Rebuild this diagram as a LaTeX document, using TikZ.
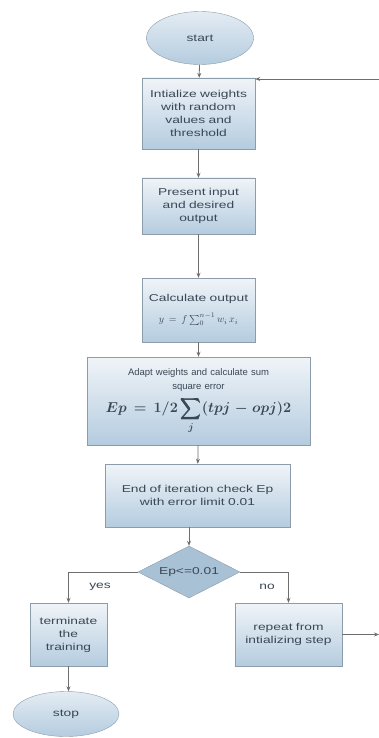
\documentclass[tikz,border=0pt]{standalone}
\usepackage{fontspec}
\setmainfont{Liberation Sans}
\newfontfamily\flowfont[FakeStretch=1.38]{Liberation Sans}
\usepackage{amsmath,amssymb,bm}
\usetikzlibrary{shapes.geometric,arrows.meta}
\definecolor{boxtop}{HTML}{F0F4F8}
\definecolor{boxbot}{HTML}{B4CCDF}
\definecolor{boxline}{HTML}{8C9CAA}
\definecolor{diafill}{HTML}{A9C1D4}
\definecolor{txt}{HTML}{3A4756}
\definecolor{conn}{HTML}{6E6E6E}

\begin{document}
\begin{tikzpicture}[x=1pt,y=-1pt,
    every node/.style={text=txt,font=\flowfont\fontsize{10}{13}\selectfont,inner sep=1pt},
    stepbox/.style={draw=boxline,top color=boxtop,bottom color=boxbot,align=center,anchor=center},
    terminal/.style={ellipse,draw=boxline,top color=boxtop!80!boxbot,bottom color=boxbot},
    decide/.style={diamond,draw=boxline,fill=diafill,aspect=2,inner sep=0pt},
    flow/.style={draw=conn,thick,-{Stealth[length=5pt,width=4pt]}}]%

\useasboundingbox (0,0) rectangle (379,738);

% terminals
\node[terminal,minimum width=107,minimum height=53] (start) at (200,38) {start};
\node[terminal,minimum width=106,minimum height=45] (stop) at (66,714) {stop};

% process steps
\node[stepbox,minimum width=113,minimum height=71,text width=109] (init) at (198.5,113.5)
    {Intialize weights\\with random\\values and\\threshold};
\node[stepbox,minimum width=113,minimum height=56,text width=109] (present) at (198.5,206)
    {Present input\\and desired\\output};
\node[stepbox,minimum width=113,minimum height=64,text width=109] (calc) at (198.5,310)
    {Calculate output\\[8pt]$y=f\sum_{0}^{n-1} w_i\,x_i$};
\node[stepbox,minimum width=223,minimum height=88,text width=215,
      font=\normalfont\fontsize{9.5}{14}\selectfont] (adapt) at (198.5,401)
    {Adapt weights and calculate sum\\square error\\[5pt]
     {\Large$\displaystyle\bm{Ep=1/2\sum_{j}(tpj-opj)2}$}};
\node[stepbox,minimum width=185,minimum height=63,text width=180] (check) at (197.5,495.5)
    {End of iteration check Ep\\with error limit 0.01};

% decision
\node[decide,minimum width=102,minimum height=52] (dec) at (189,572) {Ep<=0.01};

\node[stepbox,minimum width=77,minimum height=63,text width=73] (term) at (68.5,634.5)
    {terminate\\the\\training};
\node[stepbox,minimum width=107,minimum height=63,text width=105] (rep) at (288.5,634.5)
    {repeat from\\intializing step};

\node (yes) at (100,587) {yes};
\node (no) at (267,587) {no};

% loop back ends
\coordinate (loopin) at (379,79);
\coordinate (loopout) at (379,634.5);

% connectors
\draw[flow] (start) -- (init);
\draw[flow] (init) -- (present);
\draw[flow] (present) -- (calc);
\draw[flow] (calc) -- (adapt);
\draw[flow] (adapt) -- (check);
\draw[flow] (dec.north |- check.south) -- (dec.north);
\draw[flow] (dec.west) -| (term.north);
\draw[flow] (dec.east) -| (rep.north);
\draw[flow] (term.south) -- (term.south |- stop.north);
\draw[flow] (rep.east) -- (loopout);
\draw[flow] (loopin) -- (loopin -| init.east);
\draw[draw=conn!25] (loopout) -- (loopin);

\end{tikzpicture}
\end{document}
